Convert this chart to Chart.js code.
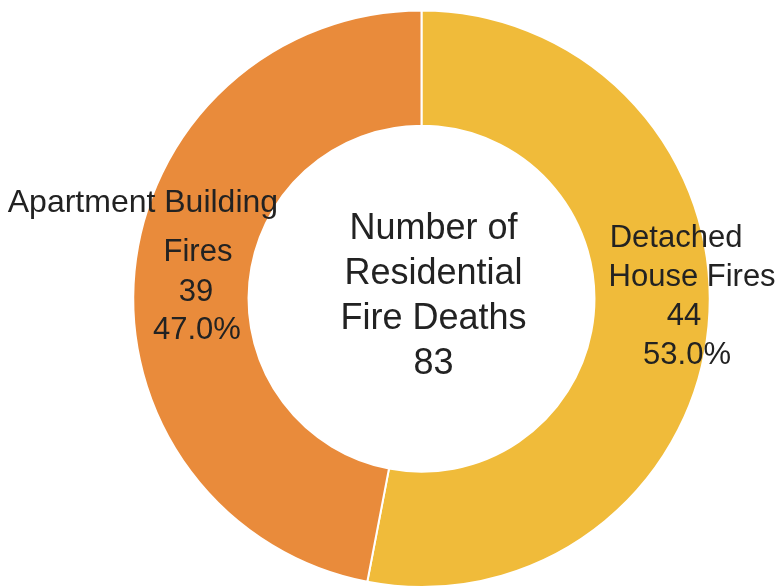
<!DOCTYPE html>
<html>
<head>
<meta charset="utf-8">
<script src="https://cdn.jsdelivr.net/npm/chart.js@4.4.1/dist/chart.umd.min.js"></script>
<style>
  html, body { margin: 0; padding: 0; background: #ffffff; }
  #wrap { width: 783px; height: 588px; position: relative; }
</style>
</head>
<body>
<div id="wrap"><canvas id="chart"></canvas></div>
<script>
// Residential fire deaths by type of building
const categories = ['Detached House Fires', 'Apartment Building Fires'];
const deaths = [44, 39];
const sliceColors = ['#F0BB3A', '#E98B3B'];
// How each category name wraps inside its slice label
const nameLines = [['Detached', 'House Fires'], ['Apartment Building', 'Fires']];
const centerTitle = ['Number of', 'Residential', 'Fire Deaths'];

const total = deaths.reduce((a, b) => a + b, 0);

// Per-line placement of slice labels, relative to each arc's centroid
const labelLayout = [
  [{dx: 25, dy: -74}, {dx: 41, dy: -35}, {dx: 33, dy: 4}, {dx: 36, dy: 43}],
  [{dx: -49, dy: -65}, {dx: 6, dy: -16}, {dx: 4, dy: 24}, {dx: 5, dy: 62}]
];

const textColor = '#222222';
const fontFamily = '"Liberation Sans", Arial, Helvetica, sans-serif';

const sliceLabels = {
  id: 'sliceLabels',
  afterDatasetsDraw(chart) {
    const ctx = chart.ctx;
    const meta = chart.getDatasetMeta(0);
    ctx.save();
    ctx.fillStyle = textColor;
    ctx.textAlign = 'center';
    ctx.textBaseline = 'alphabetic';
    meta.data.forEach((arc, i) => {
      const p = arc.tooltipPosition();
      const v = deaths[i];
      const lines = nameLines[i].concat([String(v), (v / total * 100).toFixed(1) + '%']);
      lines.forEach((t, j) => {
        const o = labelLayout[i][j];
        ctx.font = (i === 1 && j === 0 ? '32px ' : '31px ') + fontFamily;
        ctx.fillText(t, p.x + o.dx, p.y + o.dy);
      });
    });

    // Centre caption with the total
    const arc0 = meta.data[0];
    const cx = arc0.x, cy = arc0.y;
    ctx.font = '36px ' + fontFamily;
    const centerLines = centerTitle.concat([String(total)]);
    centerLines.forEach((t, j) => {
      ctx.fillText(t, cx + 12, cy - 60 + j * 45);
    });
    ctx.restore();
  }
};

new Chart(document.getElementById('chart'), {
  type: 'doughnut',
  data: {
    labels: categories,
    datasets: [{
      data: deaths,
      backgroundColor: sliceColors,
      borderColor: '#ffffff',
      borderWidth: 2
    }]
  },
  options: {
    responsive: true,
    maintainAspectRatio: false,
    animation: false,
    cutout: '60%',
    layout: { padding: { left: 130.5, right: 70.5, top: 9.5, bottom: -3.5 } },
    plugins: {
      legend: { display: false },
      tooltip: { enabled: false }
    }
  },
  plugins: [sliceLabels]
});
</script>
</body>
</html>
